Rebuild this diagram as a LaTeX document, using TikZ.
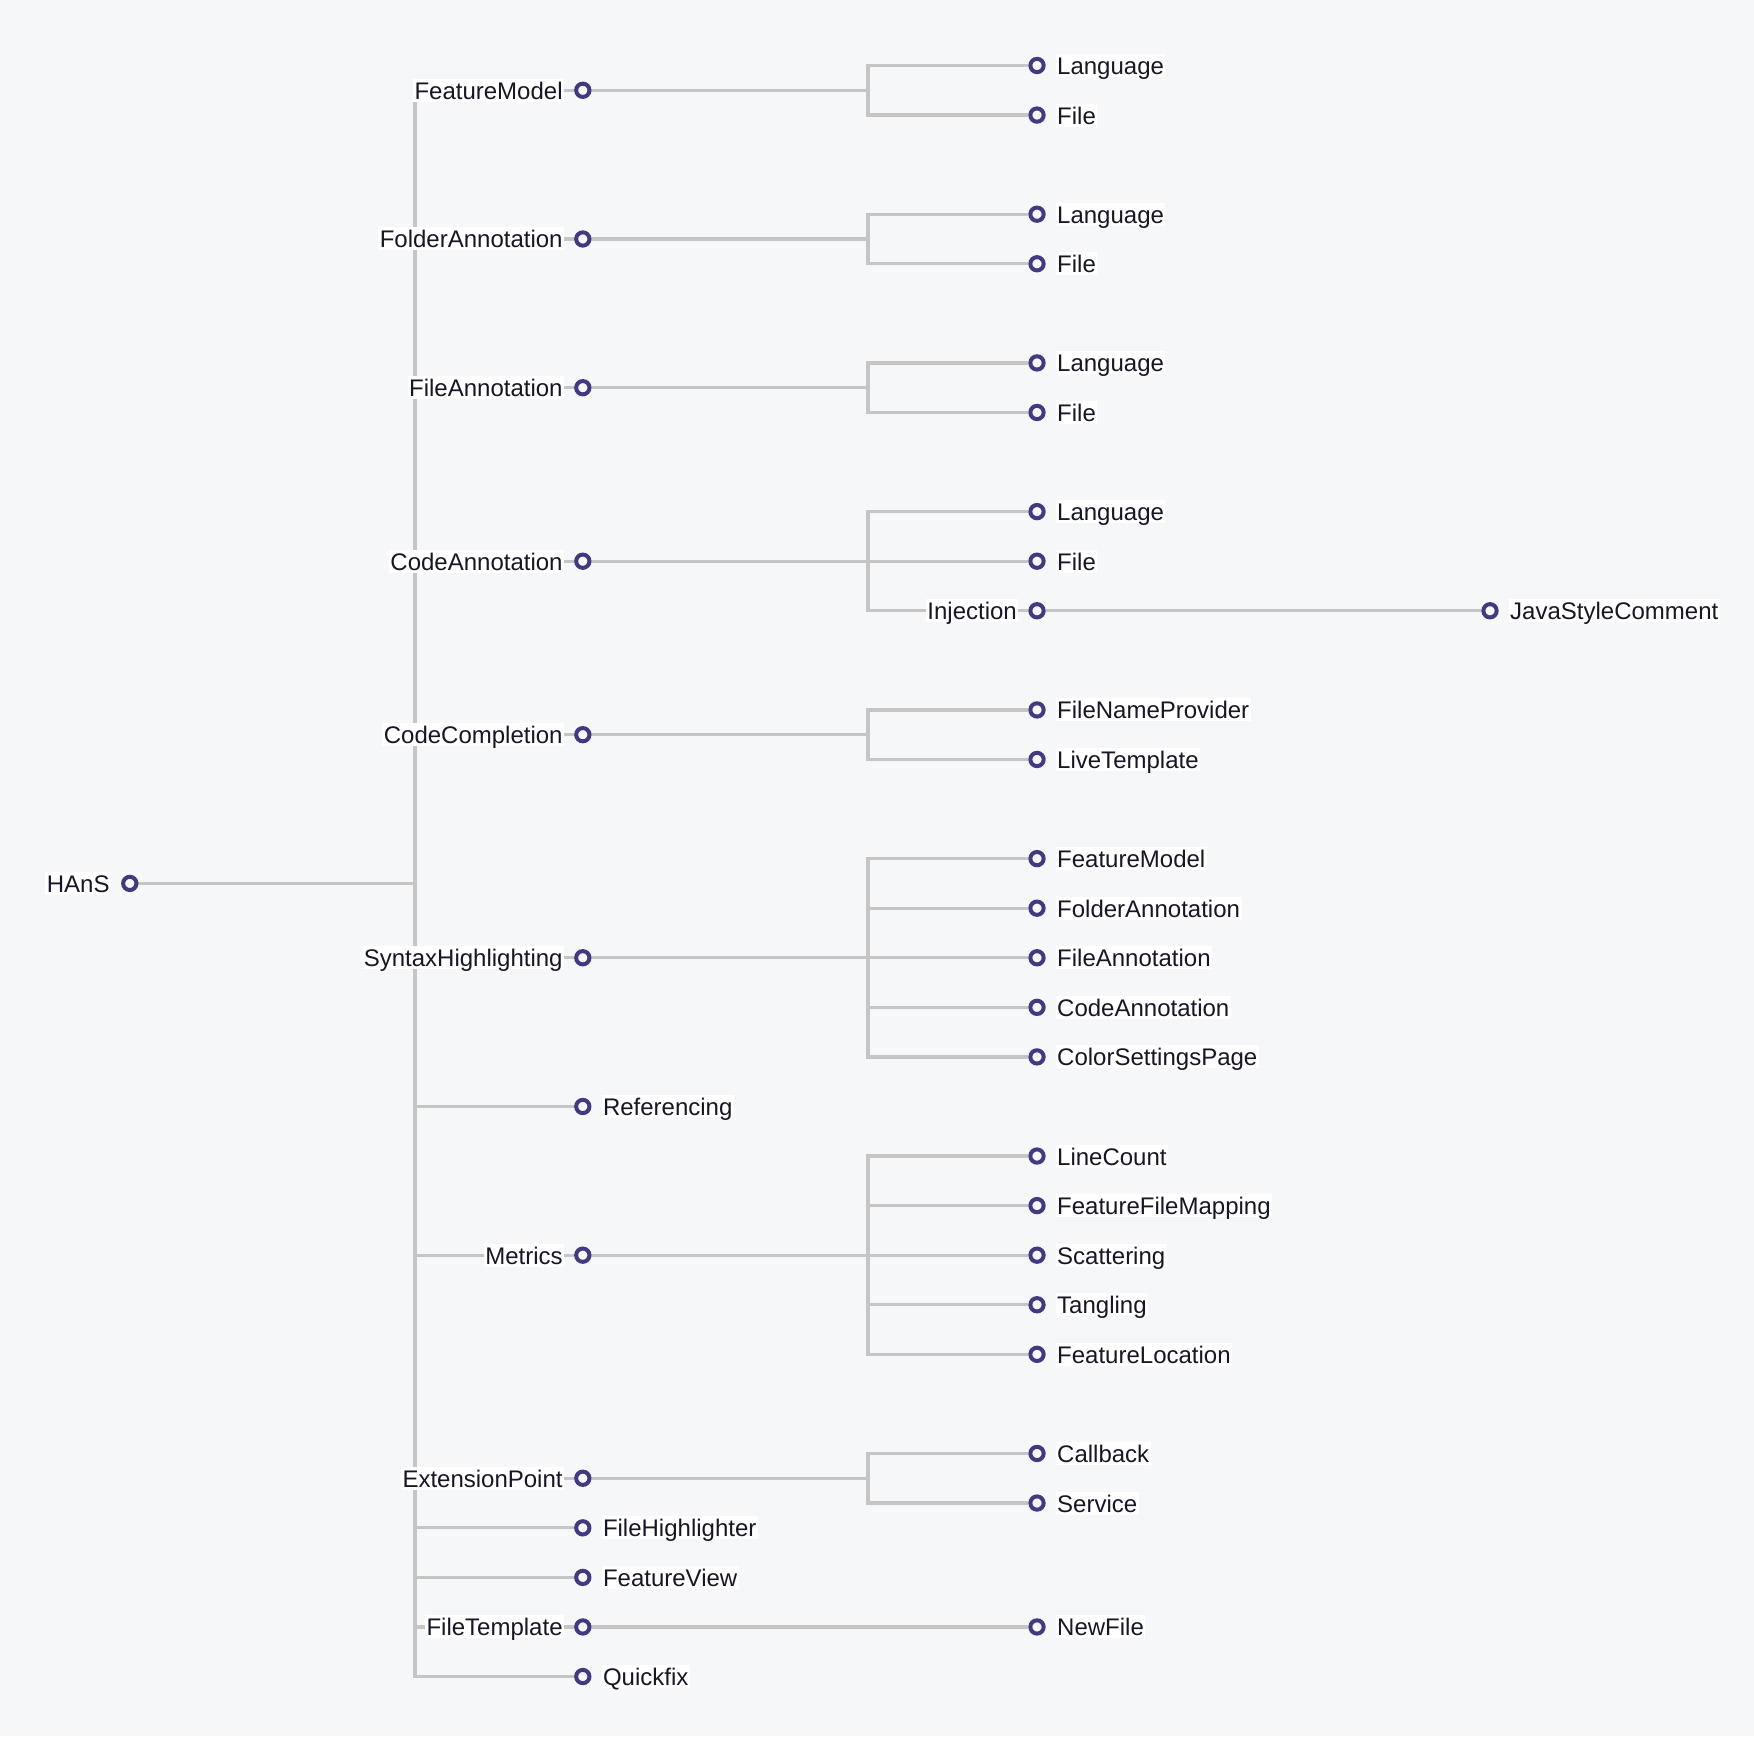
\documentclass[tikz,border=0pt]{standalone}
\usepackage{fontspec}
\setmainfont{Liberation Sans}
\usetikzlibrary{positioning}

\definecolor{canvas}{RGB}{246,247,249}
\definecolor{linkgray}{RGB}{197,197,197}
\definecolor{dotblue}{RGB}{66,57,128}
\definecolor{labelink}{RGB}{22,22,38}

\pgfdeclarelayer{paper}
\pgfdeclarelayer{links}
\pgfsetlayers{paper,links,main}

\tikzset{
  featdot/.style={circle, draw=dotblue, fill=canvas, line width=4pt, minimum size=13.3pt, inner sep=0pt},
  lbl/.style={fill=white, text=labelink, font=\fontsize{24}{28}\selectfont, inner xsep=1.5pt, inner ysep=1pt, text height=19.5pt, text depth=1.5pt},
  link/.style={draw=linkgray, line width=3.3pt},
}

\begin{document}
\begin{tikzpicture}[x=1pt, y=-49.57pt]
    \useasboundingbox (0,-1.3214) rectangle (1754,33.700);
    \begin{pgfonlayer}{paper}
      \fill[canvas] (0,-1.3214) rectangle (1754,33.700);
    \end{pgfonlayer}

    % root
    \node[featdot] (hans) at (129.8,16.5) {};
    \node[lbl, left=18.5pt of hans.center] (hans-l) {HAnS};

    % first level, labels on the left
    \foreach \name/\row/\txt in {fm/0.5/FeatureModel, fo/3.5/FolderAnnotation, fi/6.5/FileAnnotation,
        ca/10/CodeAnnotation, cc/13.5/CodeCompletion, sh/18/SyntaxHighlighting, me/24/Metrics,
        ep/28.5/ExtensionPoint, ft/31.5/FileTemplate} {
      \node[featdot] (\name) at (582.8,\row) {};
      \node[lbl, left=18.5pt of \name.center] (\name-l) {\txt};
    }
    % first level leaves
    \foreach \name/\row/\txt in {ref/21/Referencing, fh/29.5/FileHighlighter, fv/30.5/FeatureView, qf/32.5/Quickfix} {
      \node[featdot] (\name) at (582.8,\row) {};
      \node[lbl, right=18.5pt of \name.center] (\name-l) {\txt};
    }

    % second level
    \foreach \name/\row/\txt in {fm-lang/0/Language, fm-file/1/File, fo-lang/3/Language, fo-file/4/File,
        fi-lang/6/Language, fi-file/7/File, ca-lang/9/Language, ca-file/10/File,
        cc-fnp/13/FileNameProvider, cc-lt/14/LiveTemplate,
        sh-fm/16/FeatureModel, sh-fo/17/FolderAnnotation, sh-fi/18/FileAnnotation, sh-ca/19/CodeAnnotation, sh-csp/20/ColorSettingsPage,
        me-lc/22/LineCount, me-ffm/23/FeatureFileMapping, me-sc/24/Scattering, me-ta/25/Tangling, me-fl/26/FeatureLocation,
        ep-cb/28/Callback, ep-sv/29/Service, ft-nf/31.5/NewFile} {
      \node[featdot] (\name) at (1037,\row) {};
      \node[lbl, right=18.5pt of \name.center] (\name-l) {\txt};
    }
    \node[featdot] (ca-inj) at (1037,11) {};
    \node[lbl, left=18.5pt of ca-inj.center] (ca-inj-l) {Injection};

    % third level
    \node[featdot] (inj-jsc) at (1490,11) {};
    \node[lbl, right=18.5pt of inj-jsc.center] (inj-jsc-l) {JavaStyleComment};

    % step links
    \begin{pgfonlayer}{links}
      \foreach \p/\c in {hans/fm, hans/fo, hans/fi, hans/ca, hans/cc, hans/sh, hans/ref, hans/me,
          hans/ep, hans/fh, hans/fv, hans/ft, hans/qf,
          fm/fm-lang, fm/fm-file, fo/fo-lang, fo/fo-file, fi/fi-lang, fi/fi-file,
          ca/ca-lang, ca/ca-file, ca/ca-inj, cc/cc-fnp, cc/cc-lt,
          sh/sh-fm, sh/sh-fo, sh/sh-fi, sh/sh-ca, sh/sh-csp,
          me/me-lc, me/me-ffm, me/me-sc, me/me-ta, me/me-fl,
          ep/ep-cb, ep/ep-sv, ft/ft-nf, ca-inj/inj-jsc}
        \draw[link] (\p) -- ([xshift=285.2pt]\p.center) |- (\c);
    \end{pgfonlayer}
\end{tikzpicture}
\end{document}
